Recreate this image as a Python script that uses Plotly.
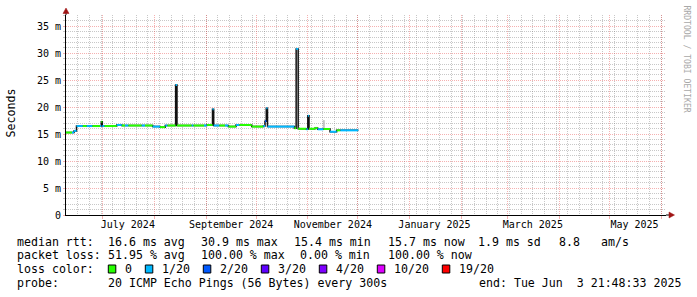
import plotly.graph_objects as go
import pandas as pd

# ---------------- data ----------------
START = "2024-06-08 21:48:33"
END = "2025-06-03 21:48:33"

seg_times = [
    "2024-06-08 21:48", "2024-06-12 12:00", "2024-06-13 17:00", "2024-06-15 05:00",
    "2024-06-18 22:00", "2024-06-21 08:00", "2024-06-24 16:30", "2024-06-29 07:30",
    "2024-06-30 02:00", "2024-06-30 16:30", "2024-07-01 21:30", "2024-07-09 08:00",
    "2024-07-12 08:00", "2024-07-14 07:30", "2024-07-16 07:00", "2024-07-24 08:00",
    "2024-07-26 07:30", "2024-07-30 22:00", "2024-08-04 07:30", "2024-08-07 11:30",
    "2024-08-08 16:30", "2024-08-13 16:30", "2024-08-14 12:00", "2024-08-23 08:00",
    "2024-08-24 07:00", "2024-08-30 17:00", "2024-09-01 08:00", "2024-09-04 19:30",
    "2024-09-05 12:30", "2024-09-08 21:00", "2024-09-12 07:30", "2024-09-14 07:00",
    "2024-09-18 22:00", "2024-09-20 21:00", "2024-09-28 08:00", "2024-10-05 07:00",
    "2024-10-06 07:30", "2024-10-07 02:00", "2024-10-07 19:30", "2024-10-23 22:00",
    "2024-10-25 00:00", "2024-10-26 05:00", "2024-10-31 02:30", "2024-11-01 00:00",
    "2024-11-01 17:30", "2024-11-05 08:00", "2024-11-06 21:00", "2024-11-10 07:30",
    "2024-11-14 08:00", "2024-11-18 07:00", "2024-11-20 12:00", "2024-12-01 07:30",
]
median_ms = [
    15.3, 15.3, 15.6, 16.5, 16.5, 16.5, 16.5, 16.5,
    17.3, 16.5, 16.5, 16.7, 16.6, 16.6, 16.6, 16.6,
    16.6, 16.4, 16.3, 16.6, 16.6, 24.1, 16.6, 16.6,
    16.6, 16.6, 16.7, 19.6, 16.6, 16.6, 16.6, 16.4,
    16.7, 16.7, 16.4, 16.5, 17.4, 19.8, 16.4, 16.1,
    30.8, 16.0, 15.9, 18.4, 16.0, 16.15, 15.9, 15.95,
    15.45, 15.7, 15.7,
]
loss_class = [
    0, 1, 1, 1, 0, 1, 0, 1,
    0, 1, 0, 1, 0, 1, 0, 1,
    0, 1, 0, 1, 0, 1, 0, 1,
    0, 1, 0, 1, 1, 0, 1, 0,
    1, 0, 0, 1, 2, 1, 1, 0,
    1, 0, 1, 1, 0, 0, 1, 0,
    1, 0, 1,
]

smoke_times = ["2024-11-10 14:00"]
smoke_lo_ms = [15.95]
smoke_hi_ms = [17.6]

loss_labels = ["0", "1/20", "2/20", "3/20", "4/20", "10/20", "19/20"]
loss_colors = ["#26ff00", "#00b8ff", "#0059ff", "#5e00ff", "#7e00ff", "#dd00ff", "#ff0000"]

y_tick_vals = [0, 5, 10, 15, 20, 25, 30, 35]
y_tick_text = ["0", "5 m", "10 m", "15 m", "20 m", "25 m", "30 m", "35 m"]
y_minor_vals = [v for v in range(1, 38) if v % 5 != 0]

x_label_dates = ["2024-07-16", "2024-09-16", "2024-11-16", "2025-01-16", "2025-03-16", "2025-05-16"]
x_label_text = ["July 2024", "September 2024", "November 2024", "January 2025", "March 2025", "May 2025"]

month_starts = [d.strftime("%Y-%m-%d") for d in pd.date_range("2024-07-01", "2025-06-01", freq="MS")]
week_starts = [d.strftime("%Y-%m-%d") for d in pd.date_range("2024-06-09", "2025-06-03", freq="7D")]

# ---------------- figure ----------------
MONO = "DejaVu Sans Mono"
W, H = 697, 297
L, R, T, B = 66, 31, 15, 82
PW, PH = W - L - R, H - T - B
Y_TOP = PH / 5.391


def xp(px):
    return (px - L) / PW


def yp(py):
    return (T + PH - py) / PH


fig = go.Figure()

# smoke
sx, sy = [], []
for t, lo, hi in zip(smoke_times, smoke_lo_ms, smoke_hi_ms):
    sx += [t, t, None]
    sy += [lo, hi, None]
fig.add_trace(go.Scatter(x=sx, y=sy, mode="lines", line=dict(color="#c4c4c4", width=2),
                         hoverinfo="skip", showlegend=False))

# black median step line (shows verticals)
fig.add_trace(go.Scatter(x=seg_times, y=median_ms + [median_ms[-1]], mode="lines",
                         line=dict(color="#111111", width=1.5, shape="hv"),
                         hoverinfo="skip", showlegend=False))

# coloured horizontal segments by loss class
for ci, col in enumerate(loss_colors):
    xs, ys = [], []
    for i, (v, c) in enumerate(zip(median_ms, loss_class)):
        if c == ci:
            xs += [seg_times[i], seg_times[i + 1], None]
            ys += [v, v, None]
    if xs:
        fig.add_trace(go.Scatter(x=xs, y=ys, mode="lines", line=dict(color=col, width=2),
                                 hoverinfo="skip", showlegend=False))

# dummy traces for the overlay axes
fig.add_trace(go.Scatter(x=[START], y=[0], xaxis="x2", yaxis="y2", mode="markers",
                         marker=dict(opacity=0), hoverinfo="skip", showlegend=False))
fig.add_trace(go.Scatter(x=[START], y=[0], xaxis="x3", yaxis="y2", mode="markers",
                         marker=dict(opacity=0), hoverinfo="skip", showlegend=False))

MAJ = "rgba(230,60,60,0.40)"
MIN = "rgba(110,110,110,0.38)"
DASH = "1px,1px"

common_x = dict(type="date", range=[START, END], fixedrange=True, zeroline=False)
common_y = dict(range=[0, Y_TOP], fixedrange=True, zeroline=False)

fig.update_layout(
    width=W, height=H,
    margin=dict(l=L, r=R, t=T, b=B, pad=0),
    paper_bgcolor="white", plot_bgcolor="rgba(0,0,0,0)",
    showlegend=False,
    xaxis=dict(
        **common_x,
        tickmode="array", tickvals=week_starts, showticklabels=False,
        showgrid=True, gridcolor=MIN, griddash=DASH, gridwidth=1, ticks="",
        showline=True, linecolor="#000000", linewidth=1,
    ),
    xaxis2=dict(
        **common_x, overlaying="x", anchor="y2", side="bottom",
        tickmode="array", tickvals=month_starts, showticklabels=False,
        showgrid=True, gridcolor=MAJ, griddash=DASH, gridwidth=1,
        ticks="outside", ticklen=3, tickcolor=MAJ, showline=False,
    ),
    xaxis3=dict(
        **common_x, overlaying="x", anchor="y2", side="bottom",
        tickmode="array", tickvals=x_label_dates, ticktext=x_label_text,
        showgrid=False, showline=False, ticks="", ticklabelstandoff=2,
        tickfont=dict(family=MONO, size=10, color="#000000"),
    ),
    yaxis=dict(
        **common_y,
        tickmode="array", tickvals=y_minor_vals, showticklabels=False,
        showgrid=True, gridcolor=MIN, griddash=DASH, gridwidth=1,
        ticks="outside", ticklen=2, tickcolor=MIN,
        showline=True, linecolor="#000000", linewidth=1,
    ),
    yaxis2=dict(
        **common_y, overlaying="y", anchor="x2", side="left",
        tickmode="array", tickvals=y_tick_vals, ticktext=y_tick_text,
        tickfont=dict(family=MONO, size=10, color="#000000"),
        showgrid=True, gridcolor=MAJ, griddash=DASH, gridwidth=1,
        ticks="outside", ticklen=2, tickcolor=MAJ, showline=False,
    ),
)

# axis extensions and arrows
ARROW = "#a01515"
fig.add_shape(type="line", xref="paper", yref="paper", x0=xp(666), x1=xp(670), y0=0, y1=0,
              line=dict(color="#000000", width=1))
fig.add_shape(type="line", xref="paper", yref="paper", x0=0, x1=0, y0=1, y1=yp(12),
              line=dict(color="#000000", width=1))
fig.add_shape(type="path", xref="paper", yref="paper",
              path=f"M {xp(669)} {yp(212)} L {xp(674.5)} {yp(215)} L {xp(669)} {yp(218)} Z",
              fillcolor=ARROW, line=dict(color=ARROW, width=0.5))
fig.add_shape(type="path", xref="paper", yref="paper",
              path=f"M {xp(63)} {yp(13.5)} L {xp(66)} {yp(8)} L {xp(69)} {yp(13.5)} Z",
              fillcolor=ARROW, line=dict(color=ARROW, width=0.5))

# axis title and side text
fig.add_annotation(x=xp(10.5), y=yp(113), xref="paper", yref="paper", text="Seconds",
                   textangle=-90, showarrow=False, xanchor="center", yanchor="middle",
                   font=dict(family=MONO, size=11.6, color="#000000"))
fig.add_annotation(x=xp(686.5), y=yp(59), xref="paper", yref="paper",
                   text="RRDTOOL / TOBI OETIKER", textangle=90, showarrow=False,
                   xanchor="center", yanchor="middle",
                   font=dict(family=MONO, size=8.1, color="#a8a8a8"))

# legend rows
FS = 11.6
rows = [
    (241.7, [(16, "median rtt:"), (107.3, "16.6 ms avg"), (200, "30.9 ms max"),
             (293.3, "15.4 ms min"), (386.7, "15.7 ms now"), (477.3, "1.9 ms sd"),
             (558.3, "8.8"), (600, "am/s")]),
    (255.0, [(16, "packet loss:"), (107.3, "51.95 % avg"), (200, "100.00 % max"),
             (299.3, "0.00 % min"), (386.7, "100.00 % now")]),
    (269.3, [(16, "loss color:")]),
    (283.3, [(16, "probe:"), (107.3, "20 ICMP Echo Pings (56 Bytes) every 300s"),
             (478.3, "end: Tue Jun  3 21:48:33 2025")]),
]
for ypix, items in rows:
    for xpix, txt in items:
        fig.add_annotation(x=xp(xpix), y=yp(ypix), xref="paper", yref="paper", text=txt,
                           showarrow=False, xanchor="left", yanchor="middle", borderpad=0,
                           font=dict(family=MONO, size=FS, color="#000000"))

# loss colour swatches
cx = 108.3
CW = 7.0
for lab, col in zip(loss_labels, loss_colors):
    fig.add_shape(type="rect", xref="paper", yref="paper",
                  x0=xp(cx), x1=xp(cx + 7.5), y0=yp(273), y1=yp(265),
                  fillcolor=col, line=dict(color="#000000", width=1))
    fig.add_annotation(x=xp(cx + 15.7), y=yp(269.3), xref="paper", yref="paper", text=lab,
                       showarrow=False, xanchor="left", yanchor="middle", borderpad=0,
                       font=dict(family=MONO, size=FS, color="#000000"))
    cx += 15.7 + len(lab) * CW + 14.3

fig.write_html("out.html")
